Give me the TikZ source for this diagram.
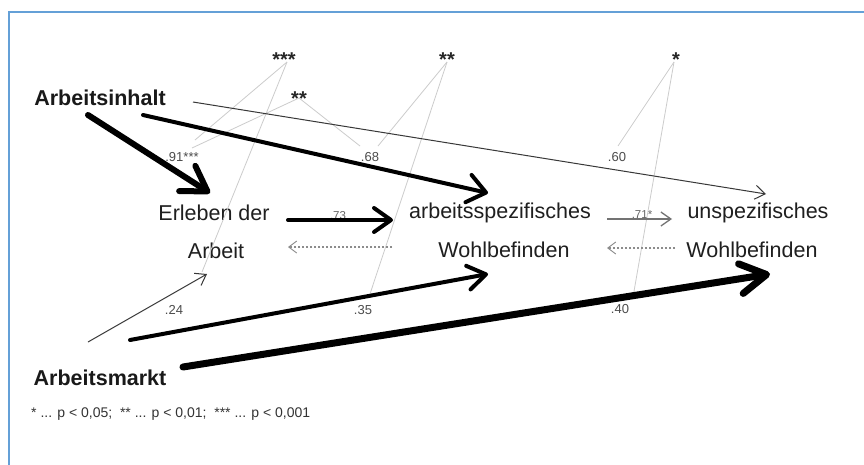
\documentclass[tikz,border=0pt]{standalone}
\usepackage{fontspec}
\setmainfont{Liberation Sans}
\usetikzlibrary{arrows.meta}
\definecolor{frameblue}{RGB}{100,160,215}
\begin{document}
\begin{tikzpicture}[x=1pt,y=-1pt,
  big/.style={inner sep=0pt, anchor=base, text=black!88, font=\fontsize{21.5}{24}\selectfont},
  bigb/.style={inner sep=0pt, anchor=base, text=black!90, font=\fontsize{21.5}{24}\selectfont\bfseries},
  starlab/.style={inner sep=0pt, anchor=base, text=black!85, font=\fontsize{20}{22}\selectfont\bfseries},
  coef/.style={inner sep=0pt, anchor=base, text=black!70, font=\fontsize{13}{15}\selectfont},
  coefs/.style={inner sep=0pt, anchor=base, text=black!60, font=\fontsize{11.5}{13}\selectfont},
  gline/.style={draw=black!20, line width=0.8pt},
  thinarr/.style={draw=black!78, line width=1pt, -{Straight Barb[length=10pt,width=14pt]}},
  greyarr/.style={draw=black!55, line width=1.3pt, -{Straight Barb[length=10pt,width=14pt]}},
  dotarr/.style={draw=black!45, line width=1.2pt, dash pattern=on 2pt off 2pt, -{Straight Barb[length=8pt,width=12pt,line width=0.9pt]}},
  thickarr/.style n args={3}{draw=black, line width=#1, line cap=round, -{Straight Barb[length=#2,width=#3,round]}}
]
\useasboundingbox (0,0) rectangle (864,464);
\fill[white] (0,0) rectangle (864,464);
\draw[frameblue, line width=1.5pt] (9,470) -- (9,12) -- (870,12);

% main nodes
\node[bigb] (ai) at (100,105) {Arbeitsinhalt};
\node[bigb] (am) at (100,385) {Arbeitsmarkt};
\node[big] (erl) at (214,220) {Erleben der};
\node[big] (arb) at (216,258) {Arbeit};
\node[big] (asp) at (500,218) {arbeitsspezifisches};
\node[big] (wb1) at (504,257) {Wohlbefinden};
\node[big] (usp) at (758,218) {unspezifisches};
\node[big] (wb2) at (752,257) {Wohlbefinden};

% significance stars
\node[starlab] (s1) at (284,66) {***};
\node[starlab] (s2) at (299,105) {**};
\node[starlab] (s3) at (447,66) {**};
\node[starlab] (s4) at (676,66) {*};

% coefficient labels
\node[coef] (c91) at (182,161) {.91***};
\node[coef] (c68) at (370,161) {.68};
\node[coef] (c60) at (617,161) {.60};
\node[coef] (c24) at (174,314) {.24};
\node[coef] (c35) at (363,314) {.35};
\node[coef] (c40) at (620,313) {.40};
\node[coefs] (c73) at (338,219) {.73};
\node[coefs] (c71) at (642,218) {.71*};

% footnote
\node[inner sep=0pt, anchor=base west, text=black!80, font=\fontsize{14}{16}\selectfont] (fn) at (31,417)
  {* ... p < 0,05;~~** ... p < 0,01;~~*** ... p < 0,001};

% connector end points
\coordinate (s1b) at (287,62);
\coordinate (s2b) at (299,98);
\coordinate (s3b) at (447,62);
\coordinate (s4b) at (674,62);
\coordinate (g91a) at (195,140);
\coordinate (g91b) at (192,148);
\coordinate (g24) at (202,272);
\coordinate (g68a) at (360,146);
\coordinate (g68b) at (378,146);
\coordinate (g35) at (370,294);
\coordinate (g60) at (618,146);
\coordinate (g40) at (633,297);

\coordinate (ai1) at (88,115);
\coordinate (ai2) at (143,115);
\coordinate (ai3) at (193,102);
\coordinate (erlin) at (210,193);
\coordinate (aspin) at (488,193);
\coordinate (uspin) at (766,194);
\coordinate (erlout) at (288,220);
\coordinate (aspin2) at (393,220);
\coordinate (wb1out) at (392,247);
\coordinate (arbin) at (288,247);
\coordinate (aspout) at (607,219);
\coordinate (uspin2) at (672,219);
\coordinate (wb2out) at (675,248);
\coordinate (wb1in2) at (607,248);
\coordinate (am1) at (88,342);
\coordinate (am2) at (130,340);
\coordinate (am3) at (183,367);
\coordinate (arbin2) at (207,274);
\coordinate (wb1in) at (488,274);
\coordinate (wb2in) at (770,274);

% grey significance lines
\draw[gline] (s1b) -- (g91a);
\draw[gline] (s1b) -- (g24);
\draw[gline] (s2b) -- (g91b);
\draw[gline] (s2b) -- (g68a);
\draw[gline] (s3b) -- (g68b);
\draw[gline] (s3b) -- (g35);
\draw[gline] (s4b) -- (g60);
\draw[gline] (s4b) -- (g40);

% paths
\draw[thickarr={6pt}{24pt}{30pt}] (ai1) -- (erlin);
\draw[thickarr={4pt}{18pt}{28pt}] (ai2) -- (aspin);
\draw[thinarr] (ai3) -- (uspin);
\draw[thickarr={4pt}{17pt}{24pt}] (erlout) -- (aspin2);
\draw[dotarr] (wb1out) -- (arbin);
\draw[greyarr] (aspout) -- (uspin2);
\draw[dotarr] (wb2out) -- (wb1in2);
\draw[thinarr] (am1) -- (arbin2);
\draw[thickarr={4pt}{18pt}{24pt}] (am2) -- (wb1in);
\draw[thickarr={7pt}{26pt}{30pt}] (am3) -- (wb2in);
\end{tikzpicture}
\end{document}
